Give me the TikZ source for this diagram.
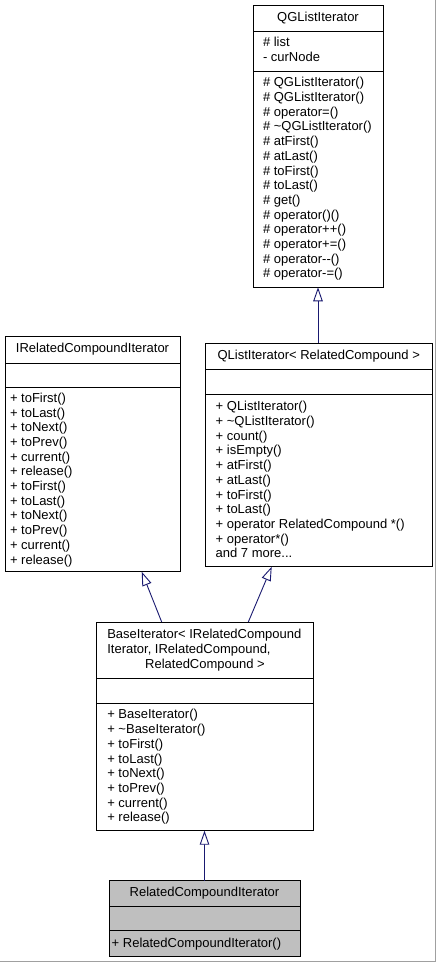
\documentclass[tikz,border=0pt]{standalone}
\usepackage{fontspec}
\setmainfont{Liberation Sans}
\usetikzlibrary{arrows.meta,calc}
\definecolor{edgeblue}{HTML}{191970}
\definecolor{selgray}{HTML}{BFBFBF}
\definecolor{framegray}{HTML}{A0A0A0}
\newcommand\fs{\fontsize{13}{14.7}\selectfont}
\begin{document}
\begin{tikzpicture}[x=1pt,y=-1pt,
 cls/.style={draw=black,line width=0.9pt,fill=white,inner sep=0,outer sep=0,anchor=north west},
 sep/.style={draw=black,line width=0.9pt},
 txt/.style={inner sep=0,outer sep=0,text height=9.4pt,text depth=2.7pt,anchor=west,font=\fs},
 ttl/.style={txt,anchor=center},
 inh/.style={draw=edgeblue,line width=0.9pt,-{Triangle[length=14pt,width=9.5pt,fill=white]}},
]
\useasboundingbox[fill=white] (0,0) rectangle (437,963);

% QGListIterator
\node[cls,minimum width=130pt,minimum height=282.3pt] (qgl) at (253,5) {};
\draw[sep] ($(qgl.north west)+(0,26)$) -- ($(qgl.north east)+(0,26)$);
\draw[sep] ($(qgl.north west)+(0,66)$) -- ($(qgl.north east)+(0,66)$);
\node[ttl] (qglt) at (318,18) {QGListIterator};
\node[txt] (qgla0) at (263,43.65) {\# list};
\node[txt] (qgla1) at (263,58.35) {- curNode};
\foreach \t [count=\i from 0] in {{\# QGListIterator()},{\# QGListIterator()},{\# operator=()},{\# \textasciitilde QGListIterator()},{\# atFirst()},{\# atLast()},{\# toFirst()},{\# toLast()},{\# get()},{\# operator()()},{\# operator++()},{\# operator+=()},{\# operator{-}{-}()},{\# operator-=()}}
  \node[txt] (qglm\i) at (263,{83.45+14.7*\i}) {\t};

% IRelatedCompoundIterator
\node[cls,minimum width=175pt,minimum height=235.7pt] (irc) at (5,336) {};
\draw[sep] ($(irc.north west)+(0,27)$) -- ($(irc.north east)+(0,27)$);
\draw[sep] ($(irc.north west)+(0,51)$) -- ($(irc.north east)+(0,51)$);
\node[ttl] (irct) at (92.5,349.5) {IRelatedCompoundIterator};
\foreach \t [count=\i from 0] in {{+ toFirst()},{+ toLast()},{+ toNext()},{+ toPrev()},{+ current()},{+ release()},{+ toFirst()},{+ toLast()},{+ toNext()},{+ toPrev()},{+ current()},{+ release()}}
  \node[txt] (ircm\i) at (10,{399+14.7*\i}) {\t};

% QListIterator< RelatedCompound >
\node[cls,minimum width=227.5pt,minimum height=223.7pt] (qli) at (205,343) {};
\draw[sep] ($(qli.north west)+(0,26)$) -- ($(qli.north east)+(0,26)$);
\draw[sep] ($(qli.north west)+(0,51)$) -- ($(qli.north east)+(0,51)$);
\node[ttl] (qlit) at (318.75,356) {QListIterator< RelatedCompound >};
\foreach \t [count=\i from 0] in {{+ QListIterator()},{+ \textasciitilde QListIterator()},{+ count()},{+ isEmpty()},{+ atFirst()},{+ atLast()},{+ toFirst()},{+ toLast()},{+ operator RelatedCompound *()},{+ operator*()}}
  \node[txt] (qlim\i) at (215.7,{407.5+14.7*\i}) {\t};
\node[txt] (qlimore) at (215.7,554.5) {and 7 more...};

% BaseIterator
\node[cls,minimum width=217pt,minimum height=208.7pt] (base) at (96,622) {};
\draw[sep] ($(base.north west)+(0,56)$) -- ($(base.north east)+(0,56)$);
\draw[sep] ($(base.north west)+(0,81.3)$) -- ($(base.north east)+(0,81.3)$);
\node[txt] (baset0) at (107.3,635.3) {BaseIterator< IRelatedCompound};
\node[txt] (baset1) at (107.3,650) {Iterator, IRelatedCompound,};
\node[ttl] (baset2) at (205,664.7) {RelatedCompound >};
\foreach \t [count=\i from 0] in {{+ BaseIterator()},{+ \textasciitilde BaseIterator()},{+ toFirst()},{+ toLast()},{+ toNext()},{+ toPrev()},{+ current()},{+ release()}}
  \node[txt] (basem\i) at (107.3,{715.55+14.7*\i}) {\t};

% RelatedCompoundIterator
\node[cls,fill=selgray,minimum width=191pt,minimum height=76pt] (rci) at (109,880.7) {};
\draw[sep] ($(rci.north west)+(0,25.3)$) -- ($(rci.north east)+(0,25.3)$);
\draw[sep] ($(rci.north west)+(0,50)$) -- ($(rci.north east)+(0,50)$);
\node[ttl] (rcit) at (204.5,893.3) {RelatedCompoundIterator};
\node[txt] (rcim0) at (111.7,943.7) {+ RelatedCompoundIterator()};

% inheritance edges
\draw[inh] (qgl.south |- qli.north) -- (qgl.south);
\draw[inh] ($(base.north west)+(65.7,0)$) -- ($(irc.south west)+(136.7,0)$);
\draw[inh] ($(base.north west)+(152.3,0)$) -- ($(qli.south west)+(66.7,0)$);
\draw[inh] (rci.north) -- (base.south);

% frame
\draw[framegray,line width=1.5pt] (435.6,0) -- (435.6,961.6) -- (0,961.6);
\end{tikzpicture}
\end{document}
